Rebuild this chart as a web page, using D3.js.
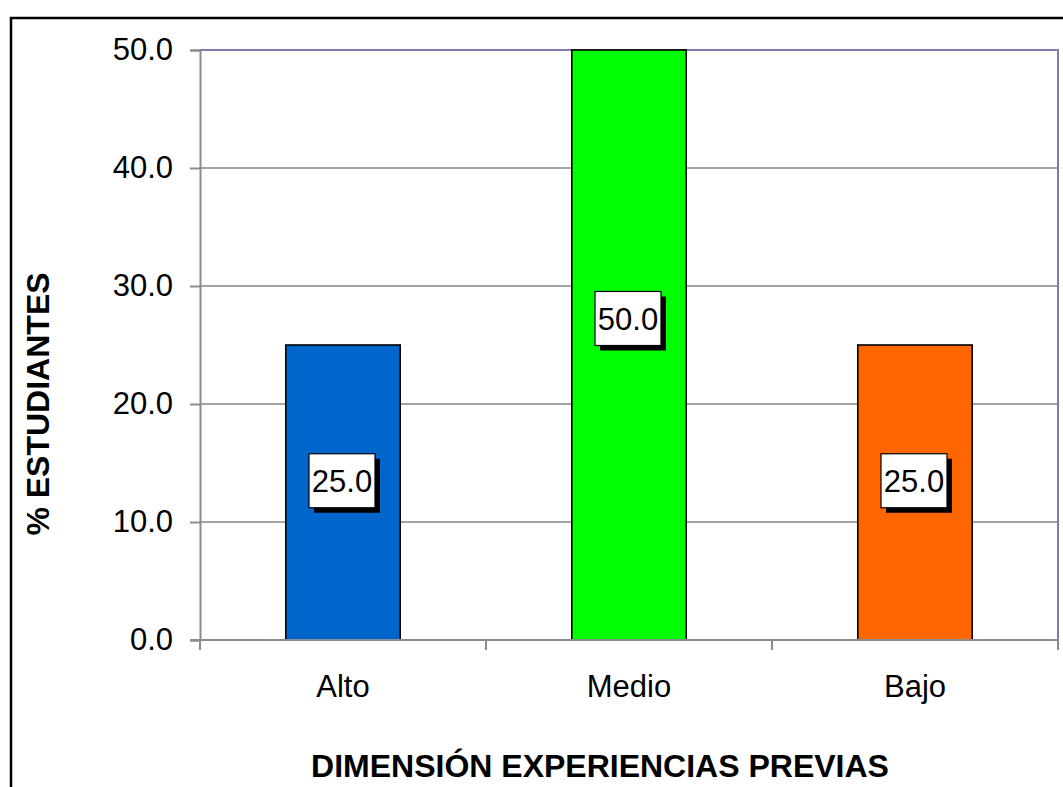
<!DOCTYPE html>
<html>
<head>
<meta charset="utf-8">
<script src="https://cdn.jsdelivr.net/npm/d3@7"></script>
<style>
  html, body { margin: 0; padding: 0; background: #ffffff; }
  svg { display: block; }
  text { font-family: "Liberation Sans", Arial, sans-serif; fill: #000; }
</style>
</head>
<body>
<svg id="chart" width="1063" height="787"></svg>
<script>
// Porcentaje de estudiantes por nivel en la dimensión "experiencias previas"
const categories = ["Alto", "Medio", "Bajo"];
const values = [25.0, 50.0, 25.0];
const barColors = ["#0066CC", "#00FF00", "#FF6600"];
const yTicks = [0, 10, 20, 30, 40, 50];
const yTitle = "% ESTUDIANTES";
const xTitle = "DIMENSIÓN EXPERIENCIAS PREVIAS";

const svg = d3.select("#chart");
const W = 1063, H = 787;

// outer chart frame (runs off the right and bottom edges)
svg.append("rect")
  .attr("x", 11).attr("y", 18)
  .attr("width", W + 20).attr("height", H + 20)
  .attr("fill", "#fff").attr("stroke", "#000").attr("stroke-width", 2.5);

const plot = { left: 200, top: 50, right: 1058, bottom: 640 };

const x = d3.scaleBand()
  .domain(categories)
  .range([plot.left, plot.right])
  .paddingInner(0).paddingOuter(0);

const y = d3.scaleLinear()
  .domain([0, 50])
  .range([plot.bottom, plot.top]);

const g = svg.append("g");

// horizontal gridlines
g.append("g")
  .selectAll("line")
  .data(yTicks.filter(t => t > 0 && t < 50))
  .join("line")
  .attr("x1", plot.left).attr("x2", plot.right)
  .attr("y1", d => y(d)).attr("y2", d => y(d))
  .attr("stroke", "#868686").attr("stroke-width", 1.3);

// plot area border (top and right)
g.append("path")
  .attr("d", `M${plot.left},${y(50)}H${plot.right}V${plot.bottom}`)
  .attr("fill", "none").attr("stroke", "#7c7cae").attr("stroke-width", 2);

// bars
const barW = x.bandwidth() * 0.4;
g.append("g")
  .selectAll("rect")
  .data(categories)
  .join("rect")
  .attr("x", d => x(d) + (x.bandwidth() - barW) / 2)
  .attr("y", (d, i) => y(values[i]))
  .attr("width", barW)
  .attr("height", (d, i) => y(0) - y(values[i]))
  .attr("fill", (d, i) => barColors[i])
  .attr("stroke", "#000").attr("stroke-width", 1.6);

// y axis
const yAxis = d3.axisLeft(y)
  .tickValues(yTicks)
  .tickFormat(d3.format(".1f"))
  .tickSize(10)
  .tickPadding(17);
const ya = g.append("g")
  .attr("transform", `translate(${plot.left},0)`)
  .call(yAxis);
ya.select(".domain").attr("stroke", "#8c8c8c").attr("stroke-width", 2);
ya.selectAll(".tick line").attr("stroke", "#8c8c8c").attr("stroke-width", 2);
ya.selectAll(".tick text")
  .attr("font-size", 31)
  .attr("font-family", "Liberation Sans, Arial, sans-serif")
  .attr("fill", "#000");

// x axis: ticks fall on the category boundaries
const xa = g.append("g")
  .attr("transform", `translate(0,${plot.bottom})`);
xa.append("line")
  .attr("x1", plot.left - 10).attr("x2", plot.right)
  .attr("stroke", "#8c8c8c").attr("stroke-width", 2);
const bounds = categories.map(c => x(c)).concat([x(categories[categories.length - 1]) + x.bandwidth()]);
xa.selectAll("line.tk")
  .data(bounds)
  .join("line")
  .attr("class", "tk")
  .attr("x1", d => d).attr("x2", d => d)
  .attr("y1", 0).attr("y2", 10)
  .attr("stroke", "#8c8c8c").attr("stroke-width", 2);
xa.selectAll("text")
  .data(categories)
  .join("text")
  .attr("x", d => x(d) + x.bandwidth() / 2)
  .attr("y", 57)
  .attr("text-anchor", "middle")
  .attr("font-size", 31)
  .text(d => d);

// value labels: white boxes with a drop shadow
const boxW = 66, boxH = 54, shadow = 5;
const lab = g.append("g")
  .selectAll("g")
  .data(categories)
  .join("g")
  .attr("transform", (d, i) =>
    `translate(${x(d) + x.bandwidth() / 2 - 1},${y(values[i] * 0.55) + 3})`);
lab.append("rect")
  .attr("x", -boxW / 2 + shadow).attr("y", -boxH / 2 + shadow)
  .attr("width", boxW).attr("height", boxH)
  .attr("fill", "#000");
lab.append("rect")
  .attr("x", -boxW / 2).attr("y", -boxH / 2)
  .attr("width", boxW).attr("height", boxH)
  .attr("fill", "#fff").attr("stroke", "#000").attr("stroke-width", 1.2);
lab.append("text")
  .attr("x", 0).attr("y", 11)
  .attr("text-anchor", "middle")
  .attr("font-size", 31)
  .text((d, i) => d3.format(".1f")(values[i]));

// axis titles
svg.append("text")
  .attr("transform", `translate(49,${(plot.top + plot.bottom) / 2 + 59}) rotate(-90)`)
  .attr("text-anchor", "middle")
  .attr("font-size", 32)
  .attr("font-weight", "bold")
  .text(yTitle);

svg.append("text")
  .attr("x", 600)
  .attr("y", 777)
  .attr("text-anchor", "middle")
  .attr("font-size", 32)
  .attr("font-weight", "bold")
  .text(xTitle);
</script>
</body>
</html>
